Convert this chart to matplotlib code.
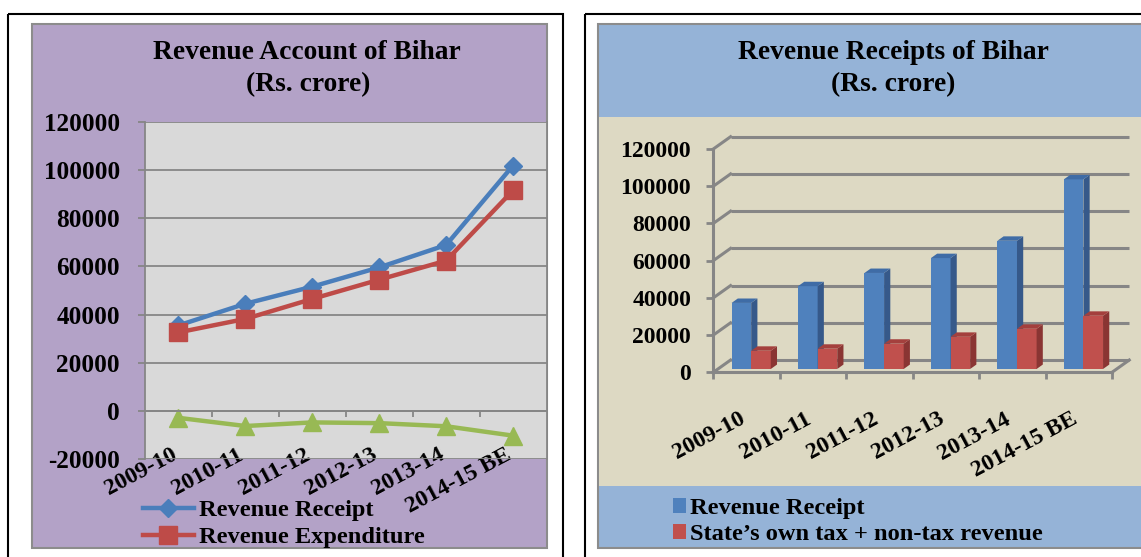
import numpy as np
import matplotlib
matplotlib.use("Agg")
import matplotlib.pyplot as plt
from matplotlib.patches import Rectangle, Polygon, Patch
from matplotlib.transforms import ScaledTranslation

# Bihar revenue figures, Rs. crore
years = ['2009-10', '2010-11', '2011-12', '2012-13', '2013-14', '2014-15 BE']
revenue_receipt = [35500, 44500, 51600, 59600, 68900, 101900]
revenue_expenditure = [32600, 38200, 46500, 54500, 62400, 91600]
revenue_balance = [-2900, -6300, -4800, -5100, -6400, -10300]
own_revenue = [9800, 10900, 13600, 17300, 21600, 28600]
y_ticks_left = list(range(-20000, 120001, 20000))
y_ticks_right = list(range(0, 120001, 20000))

W, H = 1141, 557
GRID = '#868686'
BLUE, RED, GREEN = '#4A7EBB', '#BE4B48', '#98B954'

plt.rcParams['font.family'] = ['Liberation Serif', 'DejaVu Serif']
plt.rcParams['font.weight'] = 'bold'
plt.rcParams['axes.unicode_minus'] = False

fig = plt.figure(figsize=(W / 100, H / 100), dpi=100)

# full-figure layer in pixel units for frames, backgrounds and titles
bg = fig.add_axes([0, 0, 1, 1], zorder=0)
bg.set_xlim(0, W)
bg.set_ylim(H, 0)
bg.axis('off')


def box(x0, y0, x1, y1, **kw):
    bg.add_patch(Rectangle((x0, y0), x1 - x0, y1 - y0, **kw))


def px_axes(x0, y0, x1, y1):
    return fig.add_axes([x0 / W, 1 - y1 / H, (x1 - x0) / W, (y1 - y0) / H], zorder=1)


def slant_labels(ax, shift_px=-8):
    # rotated category labels, right end pinned near the category
    shift = ScaledTranslation(shift_px / 100, 0, fig.dpi_scale_trans)
    for lbl in ax.get_xticklabels(minor=True):
        lbl.set_rotation(28)
        lbl.set_ha('right')
        lbl.set_va('top')
        lbl.set_rotation_mode('anchor')
        lbl.set_transform(lbl.get_transform() + shift)


x = np.arange(len(years))

# ---------------- left panel: revenue account (lines) ----------------
box(8, 14, 562.5, 570, fill=False, ec='black', lw=1.5)
box(32, 24, 547, 547.7, fc='#B3A2C7', ec='#8C8C8C', lw=1.5)
bg.text(307, 52.5, 'Revenue Account of Bihar', ha='center', va='center', fontsize=19.8)
bg.text(308, 85, '(Rs. crore)', ha='center', va='center', fontsize=19.8)

axL = px_axes(145, 122, 546.5, 459)
axL.set_facecolor('#D9D9D9')
l1, = axL.plot(x, revenue_receipt, color=BLUE, lw=3.2, marker='D', ms=9.5,
               label='Revenue Receipt')
l2, = axL.plot(x, revenue_expenditure, color=RED, lw=3.2, marker='s', ms=13,
               label='Revenue Expenditure')
axL.plot(x, revenue_balance, color=GREEN, lw=3.2, marker='^', ms=13)
axL.set_xlim(-0.5, 5.5)
axL.set_ylim(-20000, 120000)
axL.set_yticks(y_ticks_left)
axL.yaxis.grid(True, color=GRID, lw=1.3)
axL.set_axisbelow(True)
axL.spines['top'].set_visible(False)
for s in ('left', 'right', 'bottom'):
    axL.spines[s].set_color(GRID)
    axL.spines[s].set_linewidth(1.3)
axL.spines['bottom'].set_position(('data', 0))
axL.set_xticks(np.arange(0.5, 5, 1))
axL.set_xticklabels([])
axL.set_xticks(x, years, minor=True)
axL.tick_params(axis='x', which='major', direction='out', length=4.5, color=GRID, width=1.3)
axL.tick_params(axis='x', which='minor', length=0, pad=24, labelsize=17)
slant_labels(axL)
axL.tick_params(axis='y', direction='out', length=5, color=GRID, width=1.3, pad=13, labelsize=18.2)

axL.legend(handles=[l1, l2], loc='upper left', bbox_to_anchor=(142.5 / W, 1 - 499 / H),
           bbox_transform=fig.transFigure, frameon=False, fontsize=17.6,
           handlelength=2.1, handletextpad=0.2, labelspacing=0.2,
           borderpad=0, borderaxespad=0)

# ---------------- right panel: revenue receipts (3-D style bars) ----------------
box(584.6, 14, 1160, 570, fill=False, ec='black', lw=1.5)
box(598.4, 24, 1160, 547.7, fc='#95B3D7', ec='#8C8C8C', lw=1.5)
box(599.2, 116.7, 1160, 486, fc='#DDD9C3', ec='none')
bg.text(893.5, 52.5, 'Revenue Receipts of Bihar', ha='center', va='center', fontsize=19.8)
bg.text(893.5, 85, '(Rs. crore)', ha='center', va='center', fontsize=19.8)

FX0, FX1 = 713.3, 1112.0   # front floor edge, pixels
FY0, FY1 = 372.3, 149.0    # front value axis, pixels
DX, DY = 0.26, 6600        # depth of the back wall in data units
px_x = (FX1 - FX0) / 6
px_y = (FY0 - FY1) / 120000
axR = px_axes(FX0, FY1 - DY * px_y, FX1 + DX * px_x, FY0)
axR.set_facecolor('none')
axR.set_xlim(-0.5, 5.5 + DX)
axR.set_ylim(0, 120000 + DY)

# back wall grid and side edges
for v in y_ticks_right:
    axR.plot([-0.5 + DX, 5.5 + DX], [v + DY, v + DY], color=GRID, lw=2.2, solid_capstyle='butt', clip_on=False)
    axR.plot([-0.5, -0.5 + DX], [v, v + DY], color=GRID, lw=2.2, clip_on=False)
axR.plot([5.5, 5.5 + DX], [0, DY], color=GRID, lw=2.2, clip_on=False)

BW = 0.295      # bar width
F0 = 0.27       # depth of the bar front face
DEPTH = 0.36    # bar thickness as a share of the wall depth


def bars3d(ax, left, values, front, side, top):
    x0 = np.asarray(left) + F0 * DX
    y0 = F0 * DY
    ax.bar(x0, values, width=BW, bottom=y0, align='edge', color=front, zorder=3)
    ddx, ddy = DEPTH * DX, DEPTH * DY
    for xl, v in zip(x0, values):
        xr = xl + BW
        ax.add_patch(Polygon([(xr, y0), (xr + ddx, y0 + ddy), (xr + ddx, y0 + v + ddy), (xr, y0 + v)],
                             closed=True, fc=side, ec='none', zorder=3))
        ax.add_patch(Polygon([(xl, y0 + v), (xr, y0 + v), (xr + ddx, y0 + v + ddy), (xl + ddx, y0 + v + ddy)],
                             closed=True, fc=top, ec='none', zorder=3))


bars3d(axR, x - BW, revenue_receipt, '#4F81BD', '#36598A', '#3F6CA6')
bars3d(axR, x, own_revenue, '#C0504D', '#8A3533', '#A4403D')

for s in ('top', 'right'):
    axR.spines[s].set_visible(False)
for s in ('left', 'bottom'):
    axR.spines[s].set_color(GRID)
    axR.spines[s].set_linewidth(2.2)
axR.spines['left'].set_bounds(0, 120000)
axR.spines['bottom'].set_bounds(-0.5, 5.5)
axR.set_yticks(y_ticks_right)
axR.set_xticks(np.arange(-0.5, 6, 1))
axR.set_xticklabels([])
axR.set_xticks(x, years, minor=True)
axR.tick_params(axis='x', which='major', direction='out', length=5, color=GRID, width=2)
axR.tick_params(axis='x', which='minor', length=0, pad=26, labelsize=17)
slant_labels(axR)
axR.tick_params(axis='y', direction='out', length=5, color=GRID, width=2, pad=11, labelsize=17)

handles = [Patch(fc='#4F81BD', ec='none', label='Revenue Receipt'),
           Patch(fc='#C0504D', ec='none', label='State\u2019s own tax + non-tax revenue')]
axR.legend(handles=handles, loc='upper left', bbox_to_anchor=(673 / W, 1 - 498 / H),
           bbox_transform=fig.transFigure, frameon=False, fontsize=17.6,
           handlelength=0.55, handleheight=0.55, handletextpad=0.15, labelspacing=0.2,
           borderpad=0, borderaxespad=0)

fig.savefig('out.png', dpi=100)
